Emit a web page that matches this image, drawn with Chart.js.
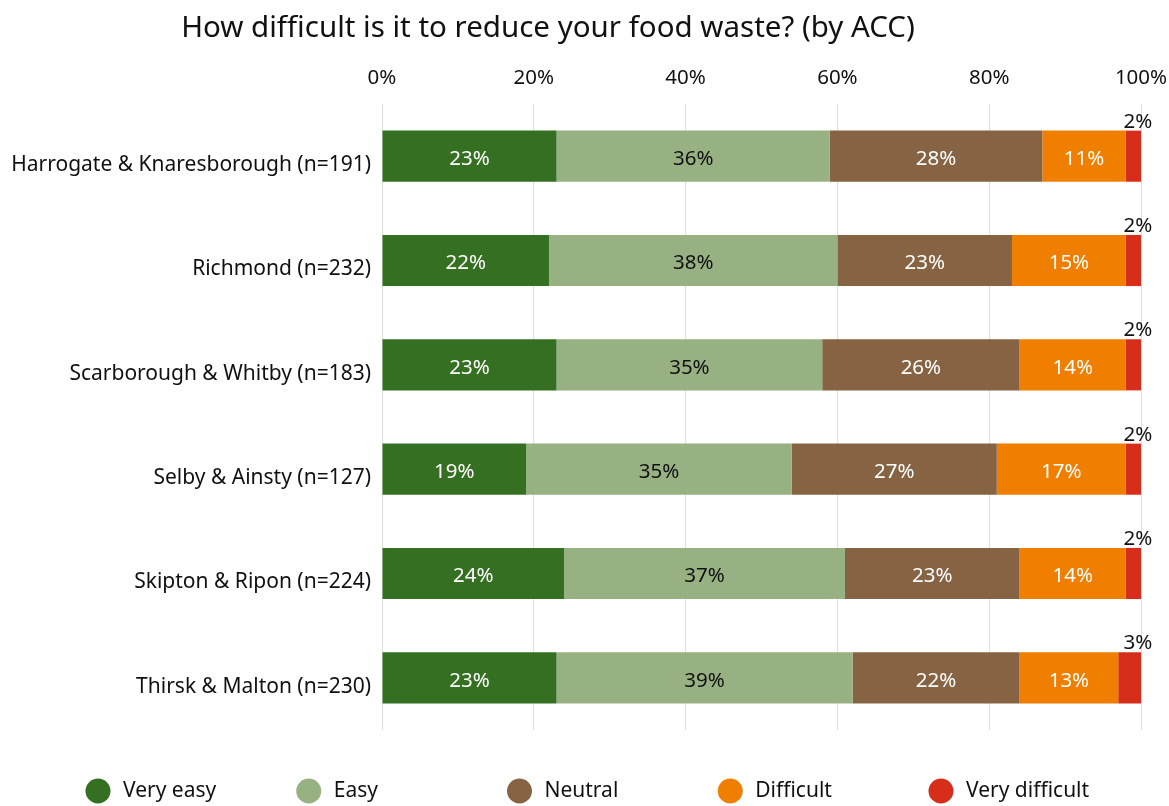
<!DOCTYPE html>
<html>
<head>
<meta charset="utf-8">
<script src="https://cdn.jsdelivr.net/npm/chart.js@4.4.1/dist/chart.umd.min.js"></script>
<style>
  html, body { margin: 0; padding: 0; background: #ffffff; }
</style>
</head>
<body>
<canvas id="chart" width="1169" height="806"></canvas>
<script>
// Areas (ACC) with respondent counts
const categories = [
  'Harrogate & Knaresborough (n=191)',
  'Richmond (n=232)',
  'Scarborough & Whitby (n=183)',
  'Selby & Ainsty (n=127)',
  'Skipton & Ripon (n=224)',
  'Thirsk & Malton (n=230)'
];

// Response categories
const seriesNames = ['Very easy', 'Easy', 'Neutral', 'Difficult', 'Very difficult'];

// Percentage of respondents per area
const veryEasy      = [23, 22, 23, 19, 24, 23];
const easy          = [36, 38, 35, 35, 37, 39];
const neutral       = [28, 23, 26, 27, 23, 22];
const difficult     = [11, 15, 14, 17, 14, 13];
const veryDifficult = [2, 2, 2, 2, 2, 3];

// Axis tick labels
const tickLabels = ['0%', '20%', '40%', '60%', '80%', '100%'];

const seriesValues = [veryEasy, easy, neutral, difficult, veryDifficult];
const colors = ['#357022', '#98b183', '#866342', '#f07f00', '#d62e1a'];
const labelColors = ['#ffffff', '#111111', '#ffffff', '#ffffff', '#111111'];
const FONT = '"Noto Sans", "Open Sans", sans-serif';
const TEXT = '#111111';

// Chart title
const titlePlugin = {
  id: 'titleText',
  afterDraw(chart) {
    const ctx = chart.ctx;
    ctx.save();
    ctx.font = '29.5px ' + FONT;
    ctx.fillStyle = TEXT;
    ctx.textAlign = 'center';
    ctx.textBaseline = 'middle';
    ctx.fillText('How difficult is it to reduce your food waste? (by ACC)', 548, 29);
    ctx.restore();
  }
};

// Percent labels on the bar segments
const valueLabelPlugin = {
  id: 'valueLabels',
  afterDatasetsDraw(chart) {
    const ctx = chart.ctx;
    ctx.save();
    ctx.font = '20.5px ' + FONT;
    const last = chart.data.datasets.length - 1;
    chart.data.datasets.forEach((ds, di) => {
      const meta = chart.getDatasetMeta(di);
      meta.data.forEach((bar, i) => {
        const text = ds.data[i] + '%';
        ctx.fillStyle = labelColors[di];
        ctx.textAlign = 'center';
        if (di === last) {
          ctx.textBaseline = 'alphabetic';
          ctx.fillText(text, bar.x - 3, bar.y - bar.height / 2 - 3);
        } else {
          ctx.textBaseline = 'middle';
          ctx.fillText(text, (bar.x + bar.base) / 2, bar.y + 3);
        }
      });
    });
    ctx.restore();
  }
};

// Legend in evenly spaced cells along the bottom
const legendPlugin = {
  id: 'cellLegend',
  afterDraw(chart) {
    const ctx = chart.ctx;
    ctx.save();
    ctx.font = '21px ' + FONT;
    ctx.textAlign = 'left';
    ctx.textBaseline = 'middle';
    const startX = 98, step = 210.75, y = 791;
    chart.data.datasets.forEach((ds, i) => {
      const cx = startX + i * step;
      ctx.fillStyle = ds.backgroundColor;
      ctx.beginPath();
      ctx.arc(cx, y, 12.5, 0, Math.PI * 2);
      ctx.fill();
      ctx.fillStyle = TEXT;
      ctx.fillText(ds.label, cx + 25, y);
    });
    ctx.restore();
  }
};

new Chart(document.getElementById('chart'), {
  type: 'bar',
  data: {
    labels: categories,
    datasets: seriesNames.map((name, i) => ({
      label: name,
      data: seriesValues[i],
      backgroundColor: colors[i],
      borderWidth: 0,
      barPercentage: 0.49,
      categoryPercentage: 1.0
    }))
  },
  options: {
    indexAxis: 'y',
    responsive: false,
    animation: false,
    layout: { padding: { top: 50, right: 28, bottom: 76, left: 0 } },
    plugins: {
      legend: { display: false },
      title: { display: false },
      tooltip: { enabled: false }
    },
    scales: {
      x: {
        position: 'top',
        stacked: true,
        min: 0,
        max: 100,
        border: { display: false },
        grid: { color: '#dedede', lineWidth: 1, drawTicks: false },
        ticks: {
          stepSize: 20,
          padding: 14,
          color: TEXT,
          font: { family: FONT, size: 20.5 },
          callback: (v) => tickLabels[Math.round(v / 20)]
        },
        afterFit(scale) {
          scale.height = 54;
          scale.paddingLeft = 0;
          scale.paddingRight = 0;
        }
      },
      y: {
        stacked: true,
        border: { display: false },
        grid: { display: false, drawTicks: false },
        ticks: {
          padding: 11,
          labelOffset: 9,
          color: TEXT,
          font: { family: FONT, size: 21 }
        },
        afterFit(scale) {
          scale.width = 382;
          scale.paddingTop = 0;
          scale.paddingBottom = 0;
        }
      }
    }
  },
  plugins: [titlePlugin, valueLabelPlugin, legendPlugin]
});
</script>
</body>
</html>
